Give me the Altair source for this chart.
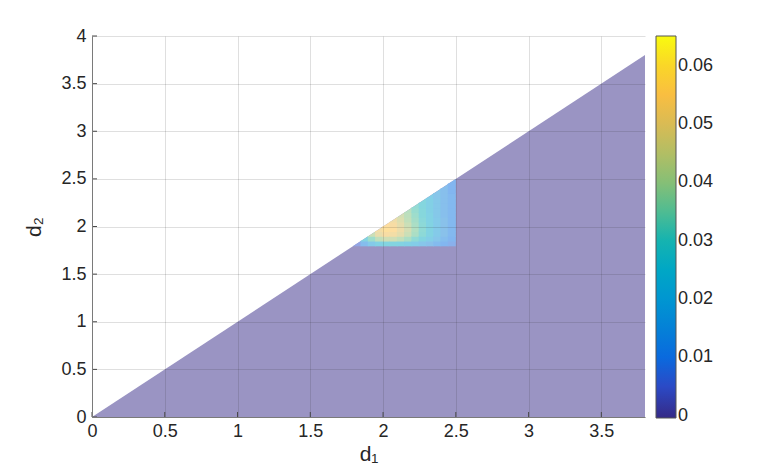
import altair as alt
import pandas as pd

# ---------------- data ----------------
x_ticks = [0, 0.5, 1, 1.5, 2, 2.5, 3, 3.5]
y_ticks = [0, 0.5, 1, 1.5, 2, 2.5, 3, 3.5, 4]
cbar_ticks = [0, 0.01, 0.02, 0.03, 0.04, 0.05, 0.06]
x_domain = [0, 3.8]
y_domain = [0, 4]
z_domain = [0, 0.0651]
cbar_domain = [-0.0004, 0.0651]

# background (z = 0) triangle d2 <= d1
tri_d1 = [0, 3.8]
tri_z = [0, 0]

# non-zero patch: columns of d1 (start 1.80, step 0.05), rows of d2 from 1.80 up to the diagonal
hot_start = 1.8
hot_step = 0.05
hot_z = [
    [0.006],
    [0.014, 0.026],
    [0.020, 0.034, 0.042],
    [0.024, 0.040, 0.049, 0.052],
    [0.026, 0.043, 0.053, 0.056, 0.055],
    [0.026, 0.043, 0.052, 0.055, 0.053, 0.051],
    [0.025, 0.040, 0.048, 0.050, 0.048, 0.046, 0.044],
    [0.023, 0.036, 0.042, 0.044, 0.042, 0.040, 0.039, 0.038],
    [0.021, 0.031, 0.036, 0.037, 0.036, 0.035, 0.034, 0.033, 0.032],
    [0.018, 0.026, 0.030, 0.031, 0.030, 0.029, 0.028, 0.028, 0.027, 0.027],
    [0.016, 0.022, 0.025, 0.025, 0.025, 0.024, 0.024, 0.023, 0.023, 0.023, 0.022],
    [0.013, 0.018, 0.020, 0.020, 0.020, 0.020, 0.019, 0.019, 0.019, 0.019, 0.018, 0.018],
    [0.011, 0.014, 0.016, 0.016, 0.016, 0.016, 0.015, 0.015, 0.015, 0.015, 0.015, 0.015, 0.015],
    [0.009, 0.011, 0.012, 0.012, 0.012, 0.012, 0.012, 0.012, 0.012, 0.012, 0.012, 0.011, 0.011, 0.011],
]

# ---------------- colours (parula) ----------------
parula = ["#352A87", "#2B4AC7", "#046DE0", "#1485D4", "#079CCF", "#0AACBE",
          "#2EB7A4", "#71BF80", "#A5BE6B", "#D1BB59", "#F8BA44", "#FAD32A", "#F9FB0E"]


def blend(hx, a=0.5):
    r, g, b = (int(hx[i:i + 2], 16) for i in (1, 3, 5))
    f = lambda c: round(255 + a * (c - 255))
    return "#%02X%02X%02X" % (f(r), f(g), f(b))


parula_alpha = [blend(c) for c in parula]

# ---------------- tables ----------------
tri_df = pd.DataFrame({"d1": tri_d1, "top": tri_d1, "bot": [0, 0], "z": tri_z})

ex, ey = 0.005, 0.008  # tiny overlap to hide anti-alias seams
rows = []
for i, col in enumerate(hot_z):
    a = hot_start + i * hot_step
    for j, z in enumerate(col):
        b = hot_start + j * hot_step
        cid = f"{i}_{j}"
        if j == i:
            rows.append(dict(cell=cid, d1=a - ex, top=a - ex, bot=b - ey, z=z))
            rows.append(dict(cell=cid, d1=a + hot_step, top=a + hot_step, bot=b - ey, z=z))
        else:
            rows.append(dict(cell=cid, d1=a - ex, top=b + hot_step, bot=b - ey, z=z))
            rows.append(dict(cell=cid, d1=a + hot_step, top=b + hot_step, bot=b - ey, z=z))
hot_df = pd.DataFrame(rows)

W, H = 553, 381
FONT = "Liberation Sans"

xscale = alt.Scale(domain=x_domain, nice=False, zero=False)
yscale = alt.Scale(domain=y_domain, nice=False, zero=False)
fill_scale = alt.Scale(domain=z_domain, range=parula_alpha)

x_axis = alt.Axis(values=x_ticks, format="~g", title="d₁", grid=True, zindex=1, labelFlush=False,
                  labelPadding=5, titlePadding=3)
y_axis = alt.Axis(values=y_ticks, format="~g", title="d₂", grid=True, zindex=1, labelFlush=False,
                  labelPadding=6, titlePadding=16)

background = alt.Chart(tri_df).mark_area(opacity=1, interpolate="linear").encode(
    x=alt.X("d1:Q", scale=xscale, axis=x_axis),
    y=alt.Y("top:Q", scale=yscale, axis=y_axis),
    y2="bot:Q",
    color=alt.Color("z:Q", scale=fill_scale, legend=None),
)

hot = alt.Chart(hot_df).mark_area(opacity=1, interpolate="linear").encode(
    x="d1:Q",
    y="top:Q",
    y2="bot:Q",
    detail="cell:N",
    color=alt.Color("z:Q", scale=fill_scale, legend=None),
)

xt = alt.Chart(pd.DataFrame({"v": x_ticks})).mark_rule(color="#4a4a4a", strokeWidth=1).encode(
    x="v:Q", y=alt.value(H), y2=alt.value(H - 5)
)
yt = alt.Chart(pd.DataFrame({"v": y_ticks})).mark_rule(color="#4a4a4a", strokeWidth=1).encode(
    y="v:Q", x=alt.value(0), x2=alt.value(5)
)

cbar = alt.Chart(pd.DataFrame({"z": cbar_ticks})).mark_rect(opacity=0).encode(
    x=alt.value(0), x2=alt.value(1), y=alt.value(0), y2=alt.value(1),
    color=alt.Color("z:Q", scale=alt.Scale(domain=cbar_domain, range=parula),
                    legend=alt.Legend(title=None, values=cbar_ticks, format="~g",
                                      gradientLength=382, gradientThickness=20,
                                      labelOverlap=False, labelBaseline="middle",
                                      offset=11, padding=0)),
)

chart = alt.layer(background, hot, xt, yt, cbar).resolve_scale(color="independent").properties(
    width=W, height=H,
    autosize=alt.AutoSizeParams(type="none"),
    padding={"left": 84, "top": 28, "right": 110, "bottom": 50},
).configure_view(stroke=None).configure_axis(
    labelFont=FONT, titleFont=FONT, labelFontSize=18, titleFontSize=21,
    titleFontWeight="normal", labelColor="#262626", titleColor="#262626",
    domainColor="#7a7a7a", domainWidth=1, tickSize=0,
    gridColor="#262626", gridOpacity=0.15, gridWidth=1,
).configure_legend(
    labelFont=FONT, labelFontSize=18, labelColor="#262626", labelOffset=6,
    gradientStrokeColor="#555555", gradientStrokeWidth=1,
)

chart.save("out.html", embed_options={"renderer": "svg", "actions": False})
